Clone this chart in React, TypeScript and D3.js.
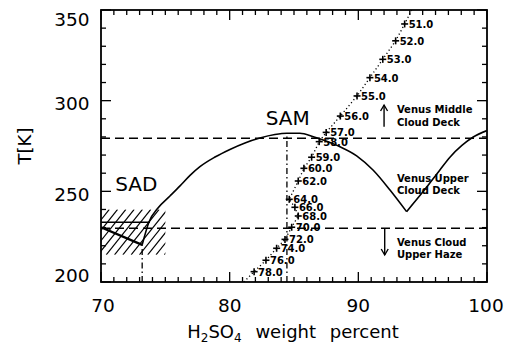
import React from 'react';
import * as d3 from 'd3';

const W = 507;
const H = 350;
const xDomain = [70, 100];
const yDomain = [200, 350];
const xTickLabels = [70, 80, 90, 100];
const yTickLabels = [200, 250, 300, 350];

// SAM/SAD phase boundary (solid curve)
const boundaryLeftX = [73.2, 73.73, 74.43, 75.36, 76.14, 76.92, 77.69, 78.86, 80.02, 81.19, 82.35, 83.52, 84.45, 85.46, 86.5, 87.27, 88.57, 89.87, 91.16, 92.46, 93.75];
const boundaryLeftT = [220.5, 233.1, 240.8, 247.4, 253.0, 258.8, 263.6, 268.9, 273.1, 276.7, 279.4, 281.3, 282.0, 282.0, 280.1, 278.3, 274.6, 269.6, 261.6, 250.7, 238.8];
const boundaryRightX = [93.75, 95.1, 96.34, 97.12, 98.05, 98.9, 100];
const boundaryRightT = [238.8, 250.4, 261.8, 268.8, 275.3, 279.8, 283.5];

// SAD triangle
const sadLowerX = [70, 73.2];
const sadLowerT = [230.2, 220.5];
const sadUpperX = [70, 73.8];
const sadUpperT = [233, 233];

// composition (dotted) line
const compLabels = ['51.0', '52.0', '53.0', '54.0', '55.0', '56.0', '57.0', '58.0', '59.0', '60.0', '62.0', '64.0', '66.0', '68.0', '70.0', '72.0', '74.0', '76.0', '78.0'];
const compX = [93.6, 92.9, 91.9, 90.9, 89.9, 88.6, 87.5, 86.96, 86.37, 85.77, 85.33, 84.63, 85.07, 85.33, 84.82, 84.3, 83.65, 82.82, 81.9];
const compT = [342.3, 333, 322.8, 312.7, 302.6, 291.5, 282.5, 277.4, 268.8, 262.7, 255.7, 245.6, 241.2, 236.4, 230.2, 223.5, 218.6, 212, 205.7];
const compEndX = [94.15, 81.1];
const compEndT = [350, 200];

// cloud levels (dashed horizontals)
const cloudLevels = [279.3, 229.6];

// SAM / SAD markers (dash-dot verticals)
const markerX = [84.45, 73.2];
const markerT = [282, 220.5];

// hatched SAD region
const hatchX = [70, 75];
const hatchT = [215, 240];

export default function App() {
  const x = d3.scaleLinear().domain(xDomain).range([101, 487]);
  const y = d3.scaleLinear().domain(yDomain).range([282, 10]);
  const [x0, x1] = x.range();
  const [yb, yt] = y.range();

  const lineMono = d3.line<[number, number]>().x(d => x(d[0])).y(d => y(d[1])).curve(d3.curveMonotoneX);
  const lineLin = d3.line<[number, number]>().x(d => x(d[0])).y(d => y(d[1]));

  const leftPts = boundaryLeftX.map((v, i) => [v, boundaryLeftT[i]] as [number, number]);
  const rightPts = boundaryRightX.map((v, i) => [v, boundaryRightT[i]] as [number, number]);
  const compPts: [number, number][] = [[compEndX[0], compEndT[0]], ...compX.map((v, i) => [v, compT[i]] as [number, number]), [compEndX[1], compEndT[1]]];

  const xTicks = d3.range(xDomain[0], xDomain[1] + 0.001, 1);
  const yTicks = d3.range(yDomain[0], yDomain[1] + 0.001, 10);

  // hatch
  const hx0 = x(hatchX[0]), hx1 = x(hatchX[1]);
  const hy0 = y(hatchT[1]), hy1 = y(hatchT[0]);
  const hh = hy1 - hy0;
  const slopeDx = hh * 0.8;
  const hatchStarts = d3.range(hx0 - slopeDx, hx1 + 1, 8.3);

  const font = 'DejaVu Sans, Verdana, sans-serif';
  const smallText = { fontFamily: font, fontSize: 10, fontWeight: 'bold' as const };

  return (
    <svg width={W} height={H} style={{ position: 'absolute', left: 0, top: 0, background: '#fff' }}>
      <defs>
        <clipPath id="hatchClip">
          <rect x={hx0} y={hy0} width={hx1 - hx0} height={hh} />
        </clipPath>
        <clipPath id="plotClip">
          <rect x={x0} y={yt} width={x1 - x0} height={yb - yt} />
        </clipPath>
      </defs>

      {/* hatch */}
      <g clipPath="url(#hatchClip)" stroke="#000" strokeWidth={1.2}>
        {hatchStarts.map((s, i) => (
          <line key={i} x1={s} y1={hy1} x2={s + slopeDx} y2={hy0} />
        ))}
      </g>

      <g clipPath="url(#plotClip)" fill="none" stroke="#000">
        {/* dashed cloud levels */}
        {cloudLevels.map((t, i) => (
          <line key={i} x1={x0} x2={x1} y1={y(t)} y2={y(t)} strokeWidth={1.5} strokeDasharray="9,5" />
        ))}
        {/* dash-dot markers */}
        {markerX.map((mx, i) => (
          <line key={i} x1={x(mx)} x2={x(mx)} y1={yb} y2={y(markerT[i])} strokeWidth={1.3} strokeDasharray="6,3,1.5,3" />
        ))}
        {/* boundary curve */}
        <path d={lineMono(leftPts) || ''} strokeWidth={1.6} />
        <path d={lineMono(rightPts) || ''} strokeWidth={1.6} />
        {/* SAD triangle */}
        <path d={lineLin(sadLowerX.map((v, i) => [v, sadLowerT[i]] as [number, number])) || ''} strokeWidth={2.4} />
        <path d={lineLin(sadUpperX.map((v, i) => [v, sadUpperT[i]] as [number, number])) || ''} strokeWidth={1.5} />
        {/* composition dotted line */}
        <path d={lineLin(compPts) || ''} strokeWidth={1.3} strokeDasharray="1.2,2.6" />
      </g>

      {/* composition markers and labels */}
      {compX.map((cx, i) => {
        const px = x(cx), py = y(compT[i]);
        return (
          <g key={i}>
            <line x1={px - 3.5} x2={px + 3.5} y1={py} y2={py} stroke="#000" strokeWidth={1.6} />
            <line x1={px} x2={px} y1={py - 3.5} y2={py + 3.5} stroke="#000" strokeWidth={1.6} />
            <text x={px + 4} y={py + 4} {...smallText}>{compLabels[i]}</text>
          </g>
        );
      })}

      {/* arrows */}
      <g stroke="#000" strokeWidth={1.4} fill="none">
        <line x1={x(92)} x2={x(92)} y1={y(285.6)} y2={y(297.6)} />
        <path d={`M${x(92) - 3.5},${y(297.6) + 6} L${x(92)},${y(297.6)} L${x(92) + 3.5},${y(297.6) + 6}`} />
        <line x1={x(92.05)} x2={x(92.05)} y1={y(229.6)} y2={y(214.9)} />
        <path d={`M${x(92.05) - 3.5},${y(214.9) - 6} L${x(92.05)},${y(214.9)} L${x(92.05) + 3.5},${y(214.9) - 6}`} />
      </g>

      {/* region labels */}
      <g {...smallText}>
        <text x={x(93)} y={y(293)}>Venus Middle</text>
        <text x={x(93)} y={y(286)}>Cloud Deck</text>
        <text x={x(93)} y={y(255.1)}>Venus Upper</text>
        <text x={x(93)} y={y(248.5)}>Cloud Deck</text>
        <text x={x(93)} y={y(219.8)}>Venus Cloud</text>
        <text x={x(93)} y={y(213)}>Upper Haze</text>
      </g>
      <text x={x(71.1)} y={y(250.3)} fontFamily={font} fontSize={20}>SAD</text>
      <text x={x(82.8)} y={y(286.8)} fontFamily={font} fontSize={20}>SAM</text>

      {/* frame */}
      <rect x={x0} y={yt} width={x1 - x0} height={yb - yt} fill="none" stroke="#000" strokeWidth={1.8} />
      {/* ticks */}
      <g stroke="#000" strokeWidth={1.3}>
        {xTicks.map((t, i) => {
          const len = t % 10 === 0 ? 10 : 5;
          return (
            <g key={i}>
              <line x1={x(t)} x2={x(t)} y1={yb} y2={yb - len} />
              <line x1={x(t)} x2={x(t)} y1={yt} y2={yt + len} />
            </g>
          );
        })}
        {yTicks.map((t, i) => {
          const len = t % 50 === 0 ? 10 : 5;
          return (
            <g key={i}>
              <line x1={x0} x2={x0 + len} y1={y(t)} y2={y(t)} />
              <line x1={x1} x2={x1 - len} y1={y(t)} y2={y(t)} />
            </g>
          );
        })}
      </g>

      {/* tick labels */}
      <g fontFamily={font} fontSize={18.5}>
        {xTickLabels.map((t, i) => (
          <text key={i} x={Math.min(Math.max(x(t), x0 + 2), W - 21)} y={311.5} textAnchor="middle">{t}</text>
        ))}
        {yTickLabels.map((t, i) => (
          <text key={i} x={89.5} y={Math.min(Math.max(y(t) + 9.5, yt + 16), yb)} textAnchor="end">{t}</text>
        ))}
      </g>

      {/* axis titles */}
      <text x={(x0 + x1) / 2 - 1} y={338} textAnchor="middle" fontFamily={font} fontSize={18} wordSpacing={8}>
        H<tspan fontSize={12} dy={4}>2</tspan><tspan dy={-4}>SO</tspan><tspan fontSize={12} dy={4}>4</tspan><tspan dy={-4}> weight percent</tspan>
      </text>
      <text transform={`translate(31,${(yt + yb) / 2}) rotate(-90)`} textAnchor="middle" fontFamily={font} fontSize={18}>T[K]</text>
    </svg>
  );
}
